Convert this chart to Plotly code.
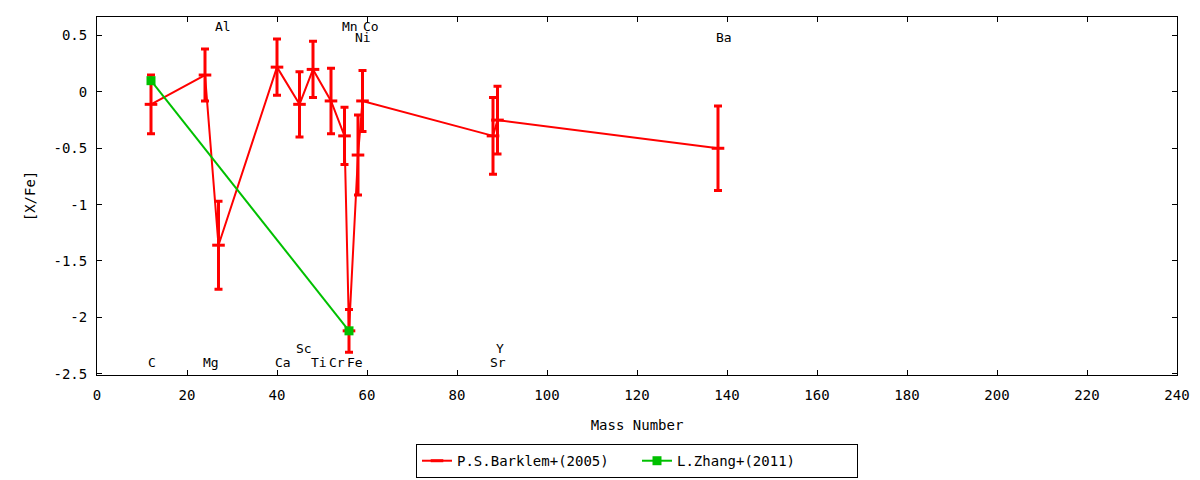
import plotly.graph_objects as go

# Barklem et al. (2005) - [X/Fe] vs mass number
barklem_mass = [12, 24, 27, 40, 45, 48, 52, 55, 56, 58, 59, 88, 89, 138]
barklem_val = [-0.11, 0.15, -1.36, 0.22, -0.11, 0.20, -0.08, -0.39, -2.12, -0.56, -0.08, -0.39, -0.25, -0.50]
barklem_err = [0.26, 0.23, 0.39, 0.25, 0.29, 0.25, 0.29, 0.255, 0.19, 0.355, 0.27, 0.34, 0.30, 0.375]

# Zhang et al. (2011)
zhang_mass = [12, 56]
zhang_val = [0.10, -2.12]
zhang_err = [0.0, 0.0]

# element labels: name, x position, label row
elem_names = ["C", "Mg", "Al", "Ca", "Sc", "Ti", "Cr", "Mn", "Fe", "Ni", "Co", "Sr", "Y", "Ba"]
elem_xpos = [11.2, 23.4, 26.1, 39.3, 44.1, 47.3, 51.3, 54.2, 55.4, 57.2, 58.8, 87.1, 88.5, 137.3]
elem_row = [-2.405, -2.405, 0.579, -2.405, -2.275, -2.405, -2.405, 0.579, -2.405, 0.485, 0.579, -2.405, -2.275, 0.485]

FONT = "DejaVu Sans Mono"
FS = 14
RED = "#ff0000"
GREEN = "#00c000"

fig = go.Figure()
fig.add_trace(go.Scatter(
    x=barklem_mass, y=barklem_val,
    error_y=dict(type="data", array=barklem_err, visible=True, color=RED, thickness=3, width=4),
    mode="lines+markers",
    line=dict(color=RED, width=2),
    marker=dict(symbol="line-ew", size=9, color=RED, line=dict(color=RED, width=3)),
    name="P.S.Barklem+(2005)",
))
fig.add_trace(go.Scatter(
    x=zhang_mass, y=zhang_val,
    error_y=dict(type="data", array=zhang_err, visible=True, color=GREEN, thickness=3, width=4),
    mode="lines+markers",
    line=dict(color=GREEN, width=2),
    marker=dict(symbol="square", size=9, color=GREEN),
    name="L.Zhang+(2011)",
))

for name, xp, row in zip(elem_names, elem_xpos, elem_row):
    fig.add_annotation(x=xp, y=row, text=name, showarrow=False,
                       xanchor="left", yanchor="middle", xshift=-1,
                       font=dict(family=FONT, size=13, color="black"))

axis_common = dict(
    showline=True, linecolor="black", linewidth=1, mirror="ticks",
    ticks="inside", ticklen=5, tickcolor="black", showgrid=False, zeroline=False,
    tickfont=dict(family=FONT, size=FS, color="black"),
)

fig.update_xaxes(range=[0, 240], dtick=20, ticklabelstandoff=7,
                 title=dict(text="Mass Number", font=dict(family=FONT, size=FS, color="black"), standoff=18),
                 **axis_common)
fig.update_yaxes(range=[-2.512, 0.665], tickvals=[0.5, 0, -0.5, -1, -1.5, -2, -2.5],
                 ticktext=["0.5", "0", "-0.5", "-1", "-1.5", "-2", "-2.5"], ticklabelstandoff=6,
                 title=dict(text="[X/Fe]", font=dict(family=FONT, size=FS, color="black"), standoff=14),
                 **axis_common)

# page body has an 8px margin, so the figure is a bit smaller than the window
fig.update_layout(
    width=1192, height=472,
    margin=dict(l=89, r=23, t=9, b=105),
    paper_bgcolor="white", plot_bgcolor="white",
    font=dict(family=FONT, size=FS, color="black"),
    legend=dict(orientation="h", x=0.5, xanchor="center", xref="paper",
                y=0.04, yanchor="middle", yref="container",
                bordercolor="black", borderwidth=1, bgcolor="white",
                entrywidth=175, font=dict(family=FONT, size=FS)),
    showlegend=True,
)

fig.write_html("out.html")
